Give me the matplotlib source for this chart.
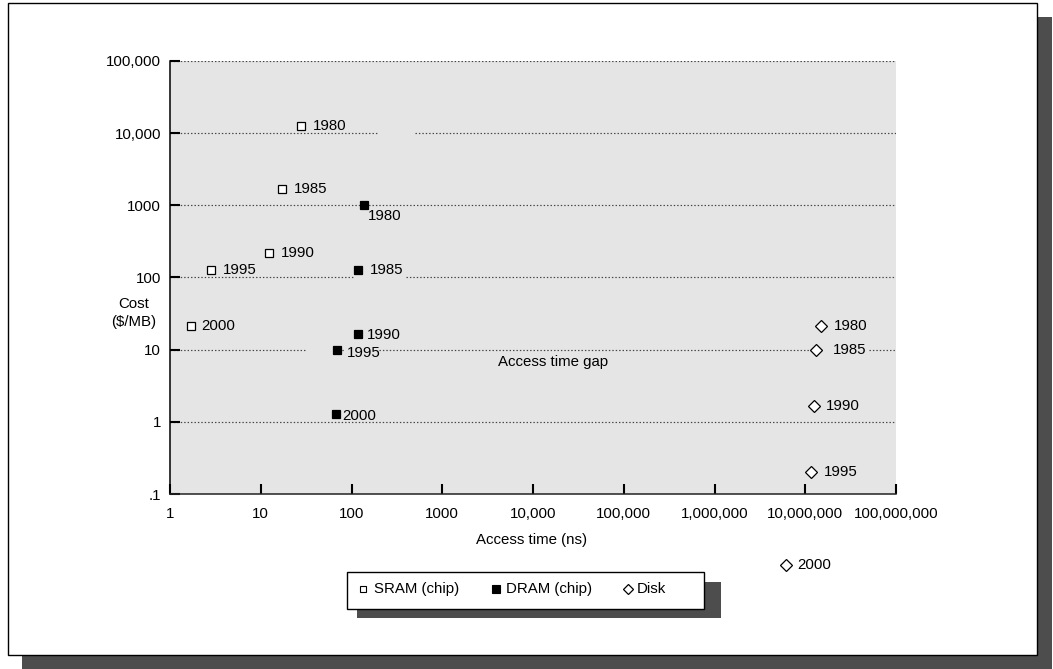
import matplotlib
matplotlib.use("Agg")
import matplotlib.pyplot as plt
from matplotlib.patches import Rectangle
from matplotlib.lines import Line2D
import numpy as np

plt.rcParams['font.family'] = ['Liberation Sans', 'DejaVu Sans']

# ---------------- data ----------------
years = ["1980", "1985", "1990", "1995", "2000"]
sram_time = [27.7, 17.0, 12.3, 2.83, 1.69]
sram_cost = [12500, 1660, 216, 129, 21.4]
dram_time = [137, 119, 118, 69.8, 67]
dram_cost = [1000, 129, 16.4, 9.9, 1.27]
disk_time = [14.8e6, 13.0e6, 12.4e6, 11.5e6, 6.1e6]
disk_cost = [21.2, 10.0, 1.66, 0.20, 0.0104]
series_names = ["SRAM (chip)", "DRAM (chip)", "Disk"]
x_ticks = [1, 10, 100, 1000, 1e4, 1e5, 1e6, 1e7, 1e8]
x_ticklabels = ["1", "10", "100", "1000", "10,000", "100,000", "1,000,000",
                "10,000,000", "100,000,000"]
y_ticks = [0.1, 1, 10, 100, 1000, 1e4, 1e5]
y_ticklabels = [".1", "1", "10", "100", "1000", "10,000", "100,000"]

# ---------------- styles ----------------
W, H = 1053, 669
FS = 10.8
BG = "#e5e5e5"
SHADOW = "#4d4d4d"
styles = [
    dict(marker="s", ms=5.4, mfc="white", mec="black", mew=0.9),
    dict(marker="s", ms=6.0, mfc="black", mec="black", mew=0.9),
    dict(marker="D", ms=6.0, mfc="white", mec="black", mew=0.9),
]
# label offsets in pixels (dx right, dy down)
label_offsets = [
    [(12, 0), (12, 0), (12, 0), (12, 0), (11, 0)],
    [(4, 11), (12, 0), (9, 1), (10, 3), (7, 1.5)],
    [(13, 0), (17, 0), (12, 0), (13, 0), (11, 0)],
]
grid_gaps = {1e4: [(191, 501)], 100: [(104, 398)],
             10: [(30.7, 65.8), (84.8, 201), (15.3e6, 50.4e6)]}

fig = plt.figure(figsize=(W / 100, H / 100), dpi=100)

# background overlay axes in pixel coords
bg = fig.add_axes([0, 0, 1, 1], zorder=0)
bg.set_xlim(0, W)
bg.set_ylim(H, 0)
bg.axis("off")
# outer frame with shadow
bg.add_patch(Rectangle((22, 17), 1052 - 22, 669 - 17, facecolor=SHADOW, edgecolor="none"))
bg.add_patch(Rectangle((8, 3), 1037 - 8, 655 - 3, facecolor="white", edgecolor="black", lw=1.0))

# main axes
L, R, T, B = 170, 896, 61, 494
ax = fig.add_axes([L / W, 1 - B / H, (R - L) / W, (B - T) / H], zorder=1)
ax.set_facecolor(BG)
ax.set_xscale("log")
ax.set_yscale("log")
ax.set_xlim(1, 1e8)
ax.set_ylim(0.1, 1e5)
ax.minorticks_off()
ax.set_xticks(x_ticks)
ax.set_xticklabels(x_ticklabels, fontsize=FS)
ax.set_yticks(y_ticks)
ax.set_yticklabels(y_ticklabels, fontsize=FS)
ax.tick_params(axis="both", which="major", direction="in", length=7.2, width=1.5,
               color="black")
ax.tick_params(axis="y", pad=6.5)
ax.tick_params(axis="x", pad=9.3)
ax.tick_params(axis="y", which="major", right=False)
ax.tick_params(axis="x", which="major", top=False)
for s in ["top", "right"]:
    ax.spines[s].set_visible(False)
ax.spines["left"].set_linewidth(1.1)
ax.spines["bottom"].set_linewidth(1.1)
ax.spines["bottom"].set_color("#222222")

# dotted gridlines with gaps
for yv in y_ticks[1:]:
    edges = [1.0]
    for g0, g1 in grid_gaps.get(yv, []):
        edges += [g0, g1]
    edges.append(1e8)
    for i in range(0, len(edges), 2):
        ax.plot([edges[i], edges[i + 1]], [yv, yv], color="#444444", lw=0.85,
                linestyle=(0, (1.2, 1.7)), zorder=1)

# series
all_t = [sram_time, dram_time, disk_time]
all_c = [sram_cost, dram_cost, disk_cost]
for k in range(3):
    ax.plot(all_t[k], all_c[k], linestyle="none", clip_on=False, zorder=3, **styles[k])
    for i, yr in enumerate(years):
        dx, dy = label_offsets[k][i]
        ax.annotate(yr, (all_t[k][i], all_c[k][i]), xytext=(dx, -dy),
                    textcoords="offset pixels", ha="left", va="center",
                    fontsize=FS, annotation_clip=False, zorder=4)

# labels
bg2 = fig.add_axes([0, 0, 1, 1], zorder=2)
bg2.set_xlim(0, W)
bg2.set_ylim(H, 0)
bg2.axis("off")
bg2.patch.set_visible(False)
bg2.text(134, 313, "Cost\n($/MB)", ha="center", va="center", fontsize=FS, linespacing=1.35)
bg2.text(532, 540, "Access time (ns)", ha="center", va="center", fontsize=FS)
bg2.text(553, 362, "Access time gap", ha="center", va="center", fontsize=FS)

# legend box with shadow
bg2.add_patch(Rectangle((357, 582), 721 - 357, 618 - 582, facecolor=SHADOW, edgecolor="none"))
bg2.add_patch(Rectangle((347, 572), 704 - 347, 609 - 572, facecolor="white",
                        edgecolor="black", lw=1.0))
leg_marker_x = [363, 496, 628]
leg_text_x = [374, 506, 637]
leg_y = 589
leg_styles = [
    dict(marker="s", ms=5.0, mfc="white", mec="black", mew=0.8),
    dict(marker="s", ms=5.6, mfc="black", mec="black", mew=0.8),
    dict(marker="D", ms=5.6, mfc="white", mec="black", mew=0.9),
]
for k in range(3):
    bg2.add_line(Line2D([leg_marker_x[k]], [leg_y], linestyle="none", **leg_styles[k]))
    bg2.text(leg_text_x[k], leg_y, series_names[k], ha="left", va="center", fontsize=FS)

fig.savefig("out.png", dpi=100)
